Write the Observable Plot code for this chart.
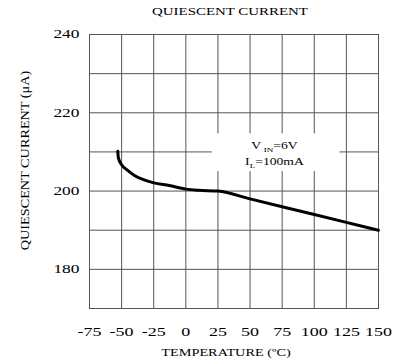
<!DOCTYPE html>
<html><head><meta charset="utf-8">
<script src="https://cdn.jsdelivr.net/npm/d3@7"></script>
<script src="https://cdn.jsdelivr.net/npm/@observablehq/plot@0.6"></script>
<style>
body{margin:0;background:#fff;}
svg{display:block;}
#title{height:24px;width:396px;font-family:"Liberation Serif",serif;font-size:10.5px;position:relative;color:#000;}
#title span{position:absolute;left:230px;top:6px;transform:translateX(-50%) scaleX(1.42);white-space:nowrap;}
</style></head><body>
<div id="title"><span></span></div>
<div id="chart"></div>
<script>
const titleText = "QUIESCENT CURRENT";
const xLabel = "TEMPERATURE (ºC)";
const yLabel = "QUIESCENT CURRENT (μA)";
const temperature = [-53, -52.5, -50, -46, -40, -33, -25, -13, 0, 10, 25, 50, 75, 100, 125, 150];
const current = [210.2, 208.5, 206.7, 205.5, 204.0, 202.9, 202.1, 201.4, 200.5, 200.2, 200.0, 198.0, 196.0, 194.0, 192.0, 190.0];
const xTicks = [-75, -50, -25, 0, 25, 50, 75, 100, 125, 150];
const yTicks = [180, 200, 220, 240];
const yGrid = [180, 190, 200, 210, 220, 230];
const noteLines = ["V_IN=6V", "I_L=100mA"];
const noteAt = [{x: 69, y: 210}];
const noteBox = [{x1: 20.5, x2: 120, y1: 205, y2: 214.6}];

document.querySelector("#title span").textContent = titleText;
const data = temperature.map((t, i) => ({t, v: current[i]}));

const svg = Plot.plot({
  width: 396, height: 340,
  marginLeft: 89, marginRight: 18, marginTop: 10, marginBottom: 56,
  x: {domain: [-75, 150]},
  y: {domain: [170, 240]},
  style: {fontFamily: '"Liberation Serif", serif', fontSize: "12px", color: "#000", background: "#fff"},
  marks: [
    Plot.ruleX(xTicks, {stroke: "#555", strokeWidth: 1}),
    Plot.ruleY(yGrid, {stroke: "#555", strokeWidth: 1}),
    Plot.rect(noteBox, {x1: "x1", x2: "x2", y1: "y1", y2: "y2", fill: "white"}),
    Plot.frame({stroke: "#555"}),
    Plot.axisX({ticks: xTicks, tickSize: 0, tickPadding: 19, tickFormat: d => String(d), label: null}),
    Plot.axisY({ticks: yTicks, tickSize: 0, tickPadding: 10, tickFormat: d => String(d), label: null}),
    Plot.text([xLabel], {frameAnchor: "bottom", lineAnchor: "middle", textAnchor: "middle", dy: 44, dx: -8, fontSize: 10, text: d => d}),
    Plot.text([yLabel], {frameAnchor: "left", lineAnchor: "middle", textAnchor: "middle", rotate: -90, dx: -65, dy: -11, fontSize: 12.5, text: d => d}),
    Plot.line(data, {x: "t", y: "v", stroke: "black", strokeWidth: 3, curve: "monotone-x"}),
    Plot.text(noteAt, {x: "x", y: "y", text: () => noteLines.join("\n"), fontSize: 10.5, lineHeight: 1.5})
  ]
});
document.getElementById("chart").appendChild(svg);

function stretchEl(el, sx) {
  el.querySelectorAll("text").forEach(t => {
    const tr = t.getAttribute("transform") || "";
    t.setAttribute("transform", tr + ` scale(${sx},1)`);
  });
}
const textGroups = svg.querySelectorAll('g[aria-label="text"]');
const [gx, gy, gnote] = textGroups;
const ns = "http://www.w3.org/2000/svg";
if (gnote) gnote.querySelectorAll("tspan").forEach(ts => {
  const m = ts.textContent.match(/^(.*?)_([A-Z]+)(.*)$/);
  if (!m) return;
  ts.textContent = "";
  const a = document.createElementNS(ns, "tspan"); a.textContent = m[1];
  const b = document.createElementNS(ns, "tspan"); b.textContent = m[2];
  b.setAttribute("font-size", "7"); b.setAttribute("dy", "3");
  if (m[1] === "V") b.setAttribute("dx", "2");
  const c = document.createElementNS(ns, "tspan"); c.textContent = m[3]; c.setAttribute("dy", "-3");
  ts.append(a, b, c);
});
svg.querySelectorAll('g[aria-label="x-axis tick label"]').forEach(g => stretchEl(g, 1.5));
svg.querySelectorAll('g[aria-label="y-axis tick label"]').forEach(g => stretchEl(g, 1.45));
if (gx) stretchEl(gx, 1.43);
if (gy) stretchEl(gy, 1.14);
if (gnote) stretchEl(gnote, 1.3);
</script>
</body></html>
